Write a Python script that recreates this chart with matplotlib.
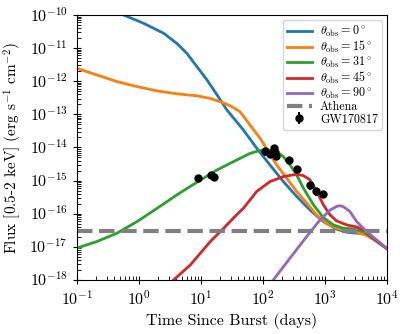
import numpy as np
import matplotlib
matplotlib.use('Agg')
import matplotlib.pyplot as plt

plt.rcParams['font.family'] = 'serif'
plt.rcParams['font.serif'] = ['cmr10', 'DejaVu Serif']
plt.rcParams['mathtext.fontset'] = 'cm'
plt.rcParams['axes.formatter.use_mathtext'] = True

# model light curves, in log10(days) and log10(erg/s/cm^2)
logt_0 = [-0.40, -0.247, 0.075, 0.398, 0.613, 0.774, 0.935, 1.097, 1.258, 1.419, 1.683, 1.898,
          2.113, 2.328, 2.543, 2.758, 2.973, 3.188, 3.35, 3.511, 3.618, 3.78, 4.0]
logf_0 = [-9.85, -10.0, -10.25, -10.55, -10.86, -11.16, -11.56, -11.96, -12.41, -12.87, -13.47,
          -14.02, -14.53, -15.03, -15.48, -15.89, -16.24, -16.47, -16.56, -16.59, -16.59, -16.76, -17.06]

logt_15 = [-1.0, -0.677, -0.355, -0.032, 0.29, 0.613, 0.935, 1.151, 1.312, 1.473, 1.629, 1.79,
           1.952, 2.086, 2.221, 2.382, 2.543, 2.705, 2.866, 3.027, 3.188, 3.35, 3.511, 3.672,
           3.833, 4.0]
logf_15 = [-11.61, -11.81, -12.01, -12.16, -12.29, -12.38, -12.44, -12.52, -12.62, -12.74, -12.92,
           -13.32, -13.72, -14.12, -14.53, -14.93, -15.33, -15.68, -16.04, -16.29, -16.44, -16.52,
           -16.56, -16.66, -16.84, -17.06]

logt_31 = [-1.0, -0.677, -0.355, -0.032, 0.29, 0.613, 0.935, 1.258, 1.468, 1.629, 1.79, 1.952,
           2.059, 2.221, 2.328, 2.436, 2.543, 2.651, 2.812, 2.973, 3.135, 3.296, 3.457, 3.618,
           3.78, 4.0]
logf_31 = [-17.04, -16.84, -16.59, -16.24, -15.84, -15.43, -15.05, -14.68, -14.48, -14.33, -14.18,
           -14.09, -14.07, -14.12, -14.28, -14.53, -14.83, -15.23, -15.73, -16.12, -16.34, -16.44,
           -16.46, -16.54, -16.76, -17.06]

logt_45 = [0.45, 0.559, 0.828, 1.151, 1.366, 1.581, 1.683, 1.898, 2.113, 2.328, 2.543, 2.651,
           2.758, 2.866, 2.973, 3.081, 3.188, 3.35, 3.511, 3.618, 3.78, 4.0]
logf_45 = [-18.2, -18.0, -17.55, -16.84, -16.44, -16.02, -15.84, -15.33, -15.03, -14.88, -14.81,
           -14.85, -14.98, -15.33, -15.73, -16.04, -16.22, -16.34, -16.40, -16.49, -16.74, -17.06]

logt_90 = [2.05, 2.167, 2.436, 2.705, 2.919, 3.081, 3.188, 3.242, 3.296, 3.403, 3.511, 3.672,
           3.833, 4.0]
logf_90 = [-18.25, -18.0, -17.34, -16.69, -16.19, -15.89, -15.78, -15.76, -15.79, -15.94, -16.24,
           -16.54, -16.79, -17.06]

athena_limit = 2.9e-17

# GW170817 X-ray detections (days, erg/s/cm^2)
obs_t = [9, 14.5, 16, 106, 131, 152, 158, 160, 259, 353, 580, 724, 930]
obs_f = [1.18e-15, 1.48e-15, 1.32e-15, 7.6e-15, 6.3e-15, 9.5e-15, 7.1e-15, 5.5e-15,
         4.2e-15, 2.25e-15, 7.1e-16, 4.7e-16, 4.0e-16]
obs_err = [0.25 * f for f in obs_f]

fig = plt.figure(figsize=(4.07, 3.34), dpi=100)
ax = fig.add_axes([0.189, 0.162, 0.762, 0.793])

curves = [(logt_0, logf_0, 0), (logt_15, logf_15, 15), (logt_31, logf_31, 31),
          (logt_45, logf_45, 45), (logt_90, logf_90, 90)]
for lt, lf, ang in curves:
    ax.plot(np.power(10.0, lt), np.power(10.0, lf), lw=2,
            label=r'$\theta_{\rm obs} = %d^\circ$' % ang)

ax.axhline(athena_limit, color='grey', lw=3, ls='--', label='Athena')
ax.errorbar(obs_t, obs_f, yerr=obs_err, fmt='o', color='k', ms=5, elinewidth=1.5,
            label='GW170817')

ax.set_xscale('log')
ax.set_yscale('log')
ax.set_xlim(1e-1, 1e4)
ax.set_ylim(1e-18, 1e-10)
ax.set_xlabel('Time Since Burst (days)', fontsize=11.5)
ax.set_ylabel(r'Flux [0.5-2 keV] (erg s$^{-1}$ cm$^{-2}$)', fontsize=11)
ax.tick_params(which='major', direction='inout', length=6, labelsize=11.5)
ax.tick_params(which='minor', direction='in', length=3)
ax.yaxis.set_minor_locator(matplotlib.ticker.LogLocator(base=10, subs=np.arange(2, 10), numticks=20))
ax.xaxis.set_minor_locator(matplotlib.ticker.LogLocator(base=10, subs=np.arange(2, 10), numticks=20))

ax.legend(loc='upper right', fontsize=8.7, labelspacing=0.0, handlelength=2.1,
          borderpad=0.35, handletextpad=0.65, borderaxespad=0.4)

# centre the y tick labels on the whole label box (superscripts included)
fig.canvas.draw()
for lbl in ax.get_yticklabels():
    lbl.set_va('center')

fig.savefig('out.png', dpi=100)
